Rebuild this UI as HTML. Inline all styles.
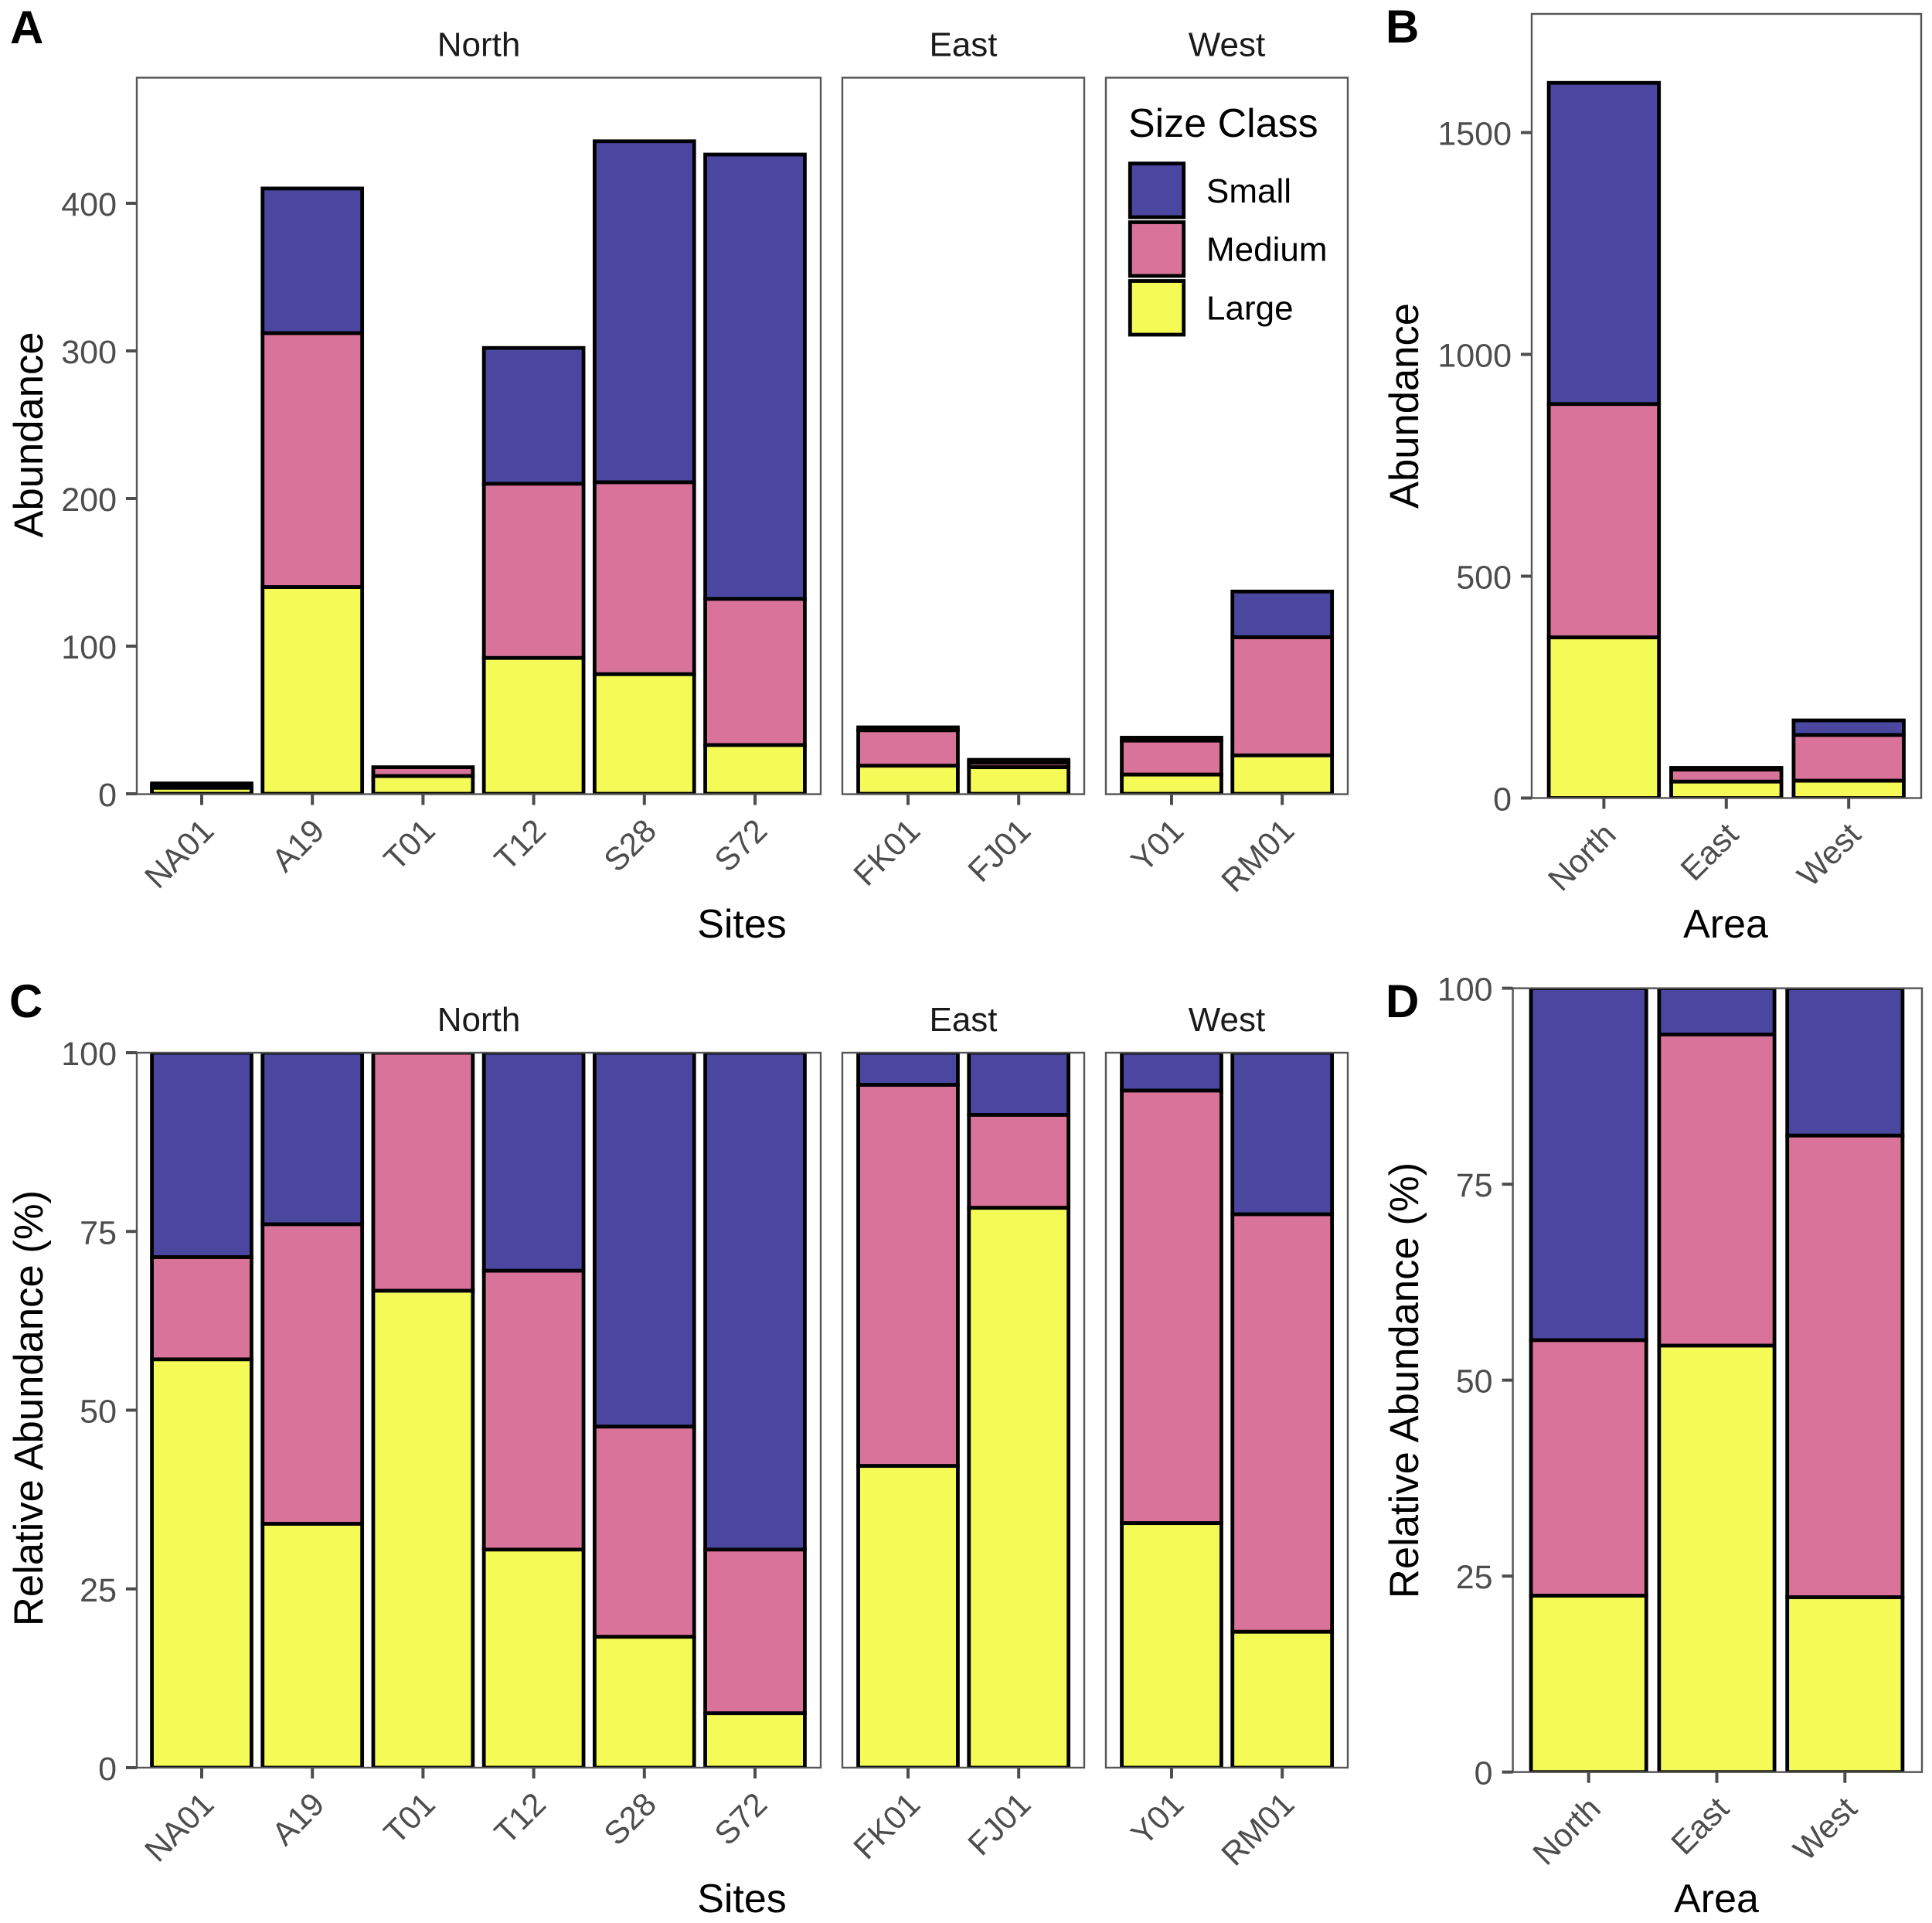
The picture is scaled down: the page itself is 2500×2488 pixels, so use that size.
<!DOCTYPE html>
<html lang="en">
<head>
<meta charset="utf-8">
<title>Abundance by size class</title>
<style>
html,body{margin:0;padding:0;background:#fff;}
svg{display:block;font-family:"Liberation Sans",Arial,sans-serif;}
</style>
</head>
<body>
<svg id="figure" xmlns="http://www.w3.org/2000/svg" width="2500" height="2488" viewBox="0 0 2500 2488">
<rect x="0" y="0" width="2500" height="2488" fill="#ffffff"/>
</svg>
<script>
// ---- data ----
const siteCategories = ['NA01','A19','T01','T12','S28','S72','FK01','FJ01','Y01','RM01'];
const areaCategories = ['North','East','West'];
const classNames = ['Small','Medium','Large'];
const classColors = ['#4b47a1','#d97399','#f4fa56'];

const panelALarge  = [4,140,12,92,81,33,19,18,13,26];
const panelAMedium = [1,172,6,118,130,99,24,3,23,80];
const panelASmall  = [2,98,0,92,231,301,2,2,2,31];

const panelBLarge  = [362,37,39];
const panelBMedium = [526,27,103];
const panelBSmall  = [724,4,33];

const panelCLarge  = [57.1,34.1,66.7,30.5,18.3,7.6,42.2,78.3,34.2,19.0];
const panelCMedium = [14.3,41.9,33.3,39.0,29.4,22.9,53.3,13.0,60.5,58.4];
const panelCSmall  = [28.6,24.0,0,30.5,52.3,69.5,4.5,8.7,5.3,22.6];

const panelDLarge  = [22.5,54.4,22.3];
const panelDMedium = [32.6,39.7,58.9];
const panelDSmall  = [44.9,5.9,18.8];

const panelATicks = [0,100,200,300,400];
const panelBTicks = [0,500,1000,1500];
const percentTicks = [0,25,50,75,100];

// ---- drawing ----
const NS = 'http://www.w3.org/2000/svg';
const svg = document.getElementById('figure');
const defs = document.createElementNS(NS, 'defs');
svg.appendChild(defs);
let clipCount = 0;
const INK = '#4d4d4d';
const BORDER = '#555555';

function addText(parent, str, x, y, size, fill, anchor, weight, rotate) {
  const t = document.createElementNS(NS, 'text');
  t.setAttribute('x', x);
  t.setAttribute('y', y);
  t.setAttribute('font-size', size);
  t.setAttribute('fill', fill);
  t.setAttribute('text-anchor', anchor);
  if (weight) t.setAttribute('font-weight', weight);
  if (rotate) t.setAttribute('transform', 'rotate(' + rotate + ' ' + x + ' ' + y + ')');
  t.textContent = str;
  parent.appendChild(t);
  return t;
}
function addLine(parent, x1, y1, x2, y2) {
  const l = document.createElementNS(NS, 'line');
  l.setAttribute('x1', x1);
  l.setAttribute('y1', y1);
  l.setAttribute('x2', x2);
  l.setAttribute('y2', y2);
  l.setAttribute('stroke', INK);
  l.setAttribute('stroke-width', 4);
  parent.appendChild(l);
  return l;
}

function drawStack(group, cx, width, yScale, clipId, label, small, medium, large) {
  const base = [large, large + medium, large + medium + small];
  const spans = [
    {cls: 0, lo: large + medium, hi: base[2]},
    {cls: 1, lo: large, hi: base[1]},
    {cls: 2, lo: 0, hi: base[0]}
  ];
  spans.forEach(function (s) {
    const top = yScale(s.hi);
    const bottom = yScale(s.lo);
    const r = document.createElementNS(NS, 'rect');
    r.setAttribute('x', cx - width / 2);
    r.setAttribute('y', top);
    r.setAttribute('width', width);
    r.setAttribute('height', Math.max(0, bottom - top));
    r.setAttribute('fill', classColors[s.cls]);
    r.setAttribute('stroke', '#000000');
    r.setAttribute('stroke-width', 4.8);
    r.setAttribute('clip-path', 'url(#' + clipId + ')');
    
    
    group.appendChild(r);
  });
}

function drawFacet(opts) {
  const g = document.createElementNS(NS, 'g');
  
  
  svg.appendChild(g);

  const clipId = 'clip' + (clipCount++);
  const clip = document.createElementNS(NS, 'clipPath');
  clip.setAttribute('id', clipId);
  const clipRect = document.createElementNS(NS, 'rect');
  clipRect.setAttribute('x', opts.left);
  clipRect.setAttribute('y', opts.top);
  clipRect.setAttribute('width', opts.right - opts.left);
  clipRect.setAttribute('height', opts.bottom - opts.top);
  clip.appendChild(clipRect);
  defs.appendChild(clip);

  const xAt = function (i) { return opts.firstX + i * opts.step; };
  for (let k = 0; k < opts.indices.length; k++) {
    const idx = opts.indices[k];
    drawStack(g, xAt(k), 0.9 * opts.step, opts.yScale, clipId, opts.categories[idx],
      opts.small[idx], opts.medium[idx], opts.large[idx]);
  }

  const border = document.createElementNS(NS, 'rect');
  border.setAttribute('x', opts.left);
  border.setAttribute('y', opts.top);
  border.setAttribute('width', opts.right - opts.left);
  border.setAttribute('height', opts.bottom - opts.top);
  border.setAttribute('fill', 'none');
  border.setAttribute('stroke', BORDER);
  border.setAttribute('stroke-width', 2.4);
  
  
  g.appendChild(border);

  for (let k = 0; k < opts.indices.length; k++) {
    const idx = opts.indices[k];
    const tick = addLine(g, xAt(k), opts.bottom, xAt(k), opts.bottom + 14);
    
    
    const lab = addText(g, opts.categories[idx], xAt(k) + 18, opts.bottom + 50, 42, INK, 'end', null, -45);
    
    
  }

  if (opts.strip) {
    const st = addText(g, opts.strip, (opts.left + opts.right) / 2, opts.top - 28, 44, '#1a1a1a', 'middle');
    
    
  }
}

function drawYAxis(opts) {
  const g = document.createElementNS(NS, 'g');
  
  
  svg.appendChild(g);
  opts.ticks.forEach(function (v) {
    const y = opts.yScale(v);
    const tick = addLine(g, opts.left - 14, y, opts.left, y);
    
    
    const lab = addText(g, String(v), opts.left - 26, y + 16, 43, INK, 'end');
    
    
  });
  const title = addText(g, opts.title, opts.titleX, opts.titleY, 52.6, '#000000', 'middle', null, -90);
  
  
}

function xTitle(str, x, y) {
  const t = addText(svg, str, x, y, 52, '#000000', 'middle');
  
  
}
function panelTag(str, x, y) {
  const t = addText(svg, str, x, y, 60, '#000000', 'start', 'bold');
  
  
}

// axis functions
const yA = function (v) { return 1027 - v * 1.91; };
const yB = function (v) { return 1032.5 - v * 0.574; };
const yC = function (v) { return 2287 - v * 9.25; };
const yD = function (v) { return 2292.7 - v * 10.141; };

const SITE_STEP = 143.2;
const facets = [
  {strip: 'North', left: 177, right: 1062, firstX: 261, indices: [0,1,2,3,4,5]},
  {strip: 'East', left: 1090, right: 1403, firstX: 1175, indices: [6,7]},
  {strip: 'West', left: 1431, right: 1744, firstX: 1516, indices: [8,9]}
];

function drawSitePanel(prefix, top, bottom, yScale, small, medium, large) {
  facets.forEach(function (f) {
    drawFacet({
      name: prefix + '-facet-' + f.strip.toLowerCase(),
      strip: f.strip, left: f.left, right: f.right, top: top, bottom: bottom,
      firstX: f.firstX, step: SITE_STEP, indices: f.indices,
      categories: siteCategories, yScale: yScale,
      small: small, medium: medium, large: large
    });
  });
}

// Panel A
drawSitePanel('panel-a', 100.5, 1027.5, yA, panelASmall, panelAMedium, panelALarge);
drawYAxis({name: 'panel-a-y-axis', left: 177, ticks: panelATicks, yScale: yA, title: 'Abundance', titleX: 55, titleY: 562.5});
xTitle('Sites', 960, 1213);
panelTag('A', 13, 56);

// Panel B
drawFacet({name: 'panel-b-plot', left: 1982, right: 2486, top: 18, bottom: 1032.5,
  firstX: 2075.4, step: 158.4, indices: [0,1,2], categories: areaCategories, yScale: yB,
  small: panelBSmall, medium: panelBMedium, large: panelBLarge});
drawYAxis({name: 'panel-b-y-axis', left: 1982, ticks: panelBTicks, yScale: yB, title: 'Abundance', titleX: 1835, titleY: 525});
xTitle('Area', 2233, 1213);
panelTag('B', 1793, 55);

// Panel C
drawSitePanel('panel-c', 1362, 2287, yC, panelCSmall, panelCMedium, panelCLarge);
drawYAxis({name: 'panel-c-y-axis', left: 177, ticks: percentTicks, yScale: yC, title: 'Relative Abundance (%)', titleX: 55, titleY: 1822});
xTitle('Sites', 960, 2474);
panelTag('C', 12, 1316);

// Panel D
drawFacet({name: 'panel-d-plot', left: 1957.6, right: 2487, top: 1278.6, bottom: 2292.7,
  firstX: 2055.7, step: 165.8, indices: [0,1,2], categories: areaCategories, yScale: yD,
  small: panelDSmall, medium: panelDMedium, large: panelDLarge});
drawYAxis({name: 'panel-d-y-axis', left: 1957.6, ticks: percentTicks, yScale: yD, title: 'Relative Abundance (%)', titleX: 1835, titleY: 1786});
xTitle('Area', 2221, 2474);
panelTag('D', 1793, 1316);

// Legend
const legend = document.createElementNS(NS, 'g');


svg.appendChild(legend);
const legendTitle = addText(legend, 'Size Class', 1460, 177, 52, '#000000', 'start');


classNames.forEach(function (name, i) {
  const key = document.createElementNS(NS, 'rect');
  key.setAttribute('x', 1462.3);
  key.setAttribute('y', 211.5 + i * 76);
  key.setAttribute('width', 69.4);
  key.setAttribute('height', 69.5);
  key.setAttribute('fill', classColors[i]);
  key.setAttribute('stroke', '#000000');
  key.setAttribute('stroke-width', 4.8);
  
  
  legend.appendChild(key);
  const lab = addText(legend, name, 1561, 262 + i * 75.7, 44, '#000000', 'start');
  
  
});
</script>
</body>
</html>
